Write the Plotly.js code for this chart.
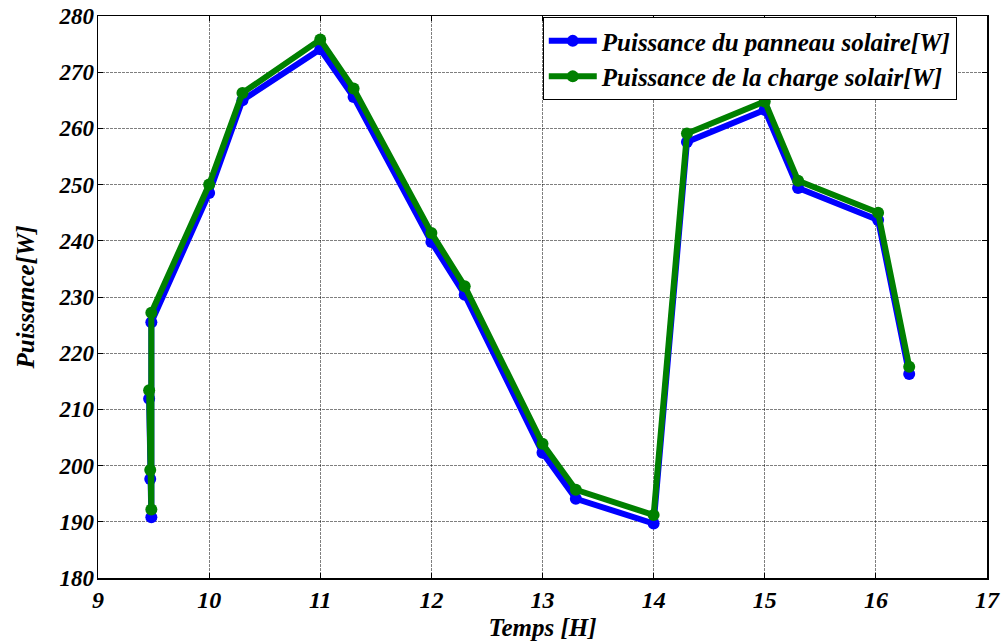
<!DOCTYPE html>
<html>
<head>
<meta charset="utf-8">
<script src="https://cdn.plot.ly/plotly-3.0.1.min.js"></script>
<style>
  html, body { margin: 0; padding: 0; background: #fff; }
  #chart { width: 1003px; height: 644px; }
</style>
</head>
<body>
<div id="chart"></div>
<script>
// Time of each measurement, in hours
const temps = [9.46, 9.47, 9.48, 9.48, 10.0, 10.3, 11.0, 11.3, 12.0, 12.3, 13.0, 13.3, 14.0, 14.3, 15.0, 15.3, 16.02, 16.3];

// Power delivered by the solar panel [W]
const puissancePanneau = [211.9, 197.6, 190.8, 225.5, 248.5, 265.0, 274.1, 265.6, 239.8, 230.4, 202.3, 194.1, 189.7, 257.6, 263.3, 249.4, 243.7, 216.3];

// Power received by the load [W]
const puissanceCharge = [213.4, 199.2, 192.2, 227.2, 250.0, 266.3, 275.8, 267.1, 241.4, 231.9, 203.9, 195.7, 191.2, 259.1, 264.8, 250.7, 245.0, 217.6];

const nomPanneau = 'Puissance du panneau solaire[W]';
const nomCharge = 'Puissance de la charge solair[W]';

const xTicks = [9, 10, 11, 12, 13, 14, 15, 16, 17];
const yTicks = [180, 190, 200, 210, 220, 230, 240, 250, 260, 270, 280];

const serif = 'Liberation Serif, Times New Roman, serif';
const boldItalic = (size) => ({ family: serif, size: size, color: '#000', weight: 'bold', style: 'italic' });

const traces = [
  {
    x: temps, y: puissancePanneau, name: nomPanneau,
    type: 'scatter', mode: 'lines+markers',
    line: { color: '#0000ff', width: 6 },
    marker: { color: '#0000ff', size: 12 }
  },
  {
    x: temps, y: puissanceCharge, name: nomCharge,
    type: 'scatter', mode: 'lines+markers',
    line: { color: '#008000', width: 6 },
    marker: { color: '#008000', size: 12 }
  }
];

const axisCommon = {
  showline: true, linecolor: '#000', linewidth: 1.5, mirror: 'ticks',
  ticks: 'inside', ticklen: 5, tickcolor: '#000', tickwidth: 1,
  showgrid: true, gridcolor: 'rgba(0,0,0,0.5)', gridwidth: 1, griddash: '3px,1px',
  zeroline: false
};

const layout = {
  width: 1003, height: 644,
  margin: { l: 98, r: 16, t: 16, b: 66 },
  paper_bgcolor: '#fff', plot_bgcolor: '#fff',
  showlegend: true,
  xaxis: Object.assign({}, axisCommon, {
    range: [9, 17], tickvals: xTicks, ticktext: xTicks.map(String),
    tickfont: boldItalic(24),
    ticklabelstandoff: 0,
    title: { text: 'Temps [H]', standoff: 6, font: boldItalic(25) }
  }),
  yaxis: Object.assign({}, axisCommon, {
    range: [180, 280], tickvals: yTicks, ticktext: yTicks.map(String),
    tickfont: boldItalic(23),
    ticklabelstandoff: -2,
    title: { text: 'Puissance[W]', standoff: 16, font: boldItalic(25) }
  }),
  legend: {
    x: 0.966, y: 0.998, xanchor: 'right', yanchor: 'top',
    bgcolor: '#fff', bordercolor: '#000', borderwidth: 1,
    font: boldItalic(25),
    itemwidth: 48,
    tracegroupgap: 0
  }
};

Plotly.newPlot('chart', traces, layout, { staticPlot: true, displayModeBar: false });
</script>
</body>
</html>
